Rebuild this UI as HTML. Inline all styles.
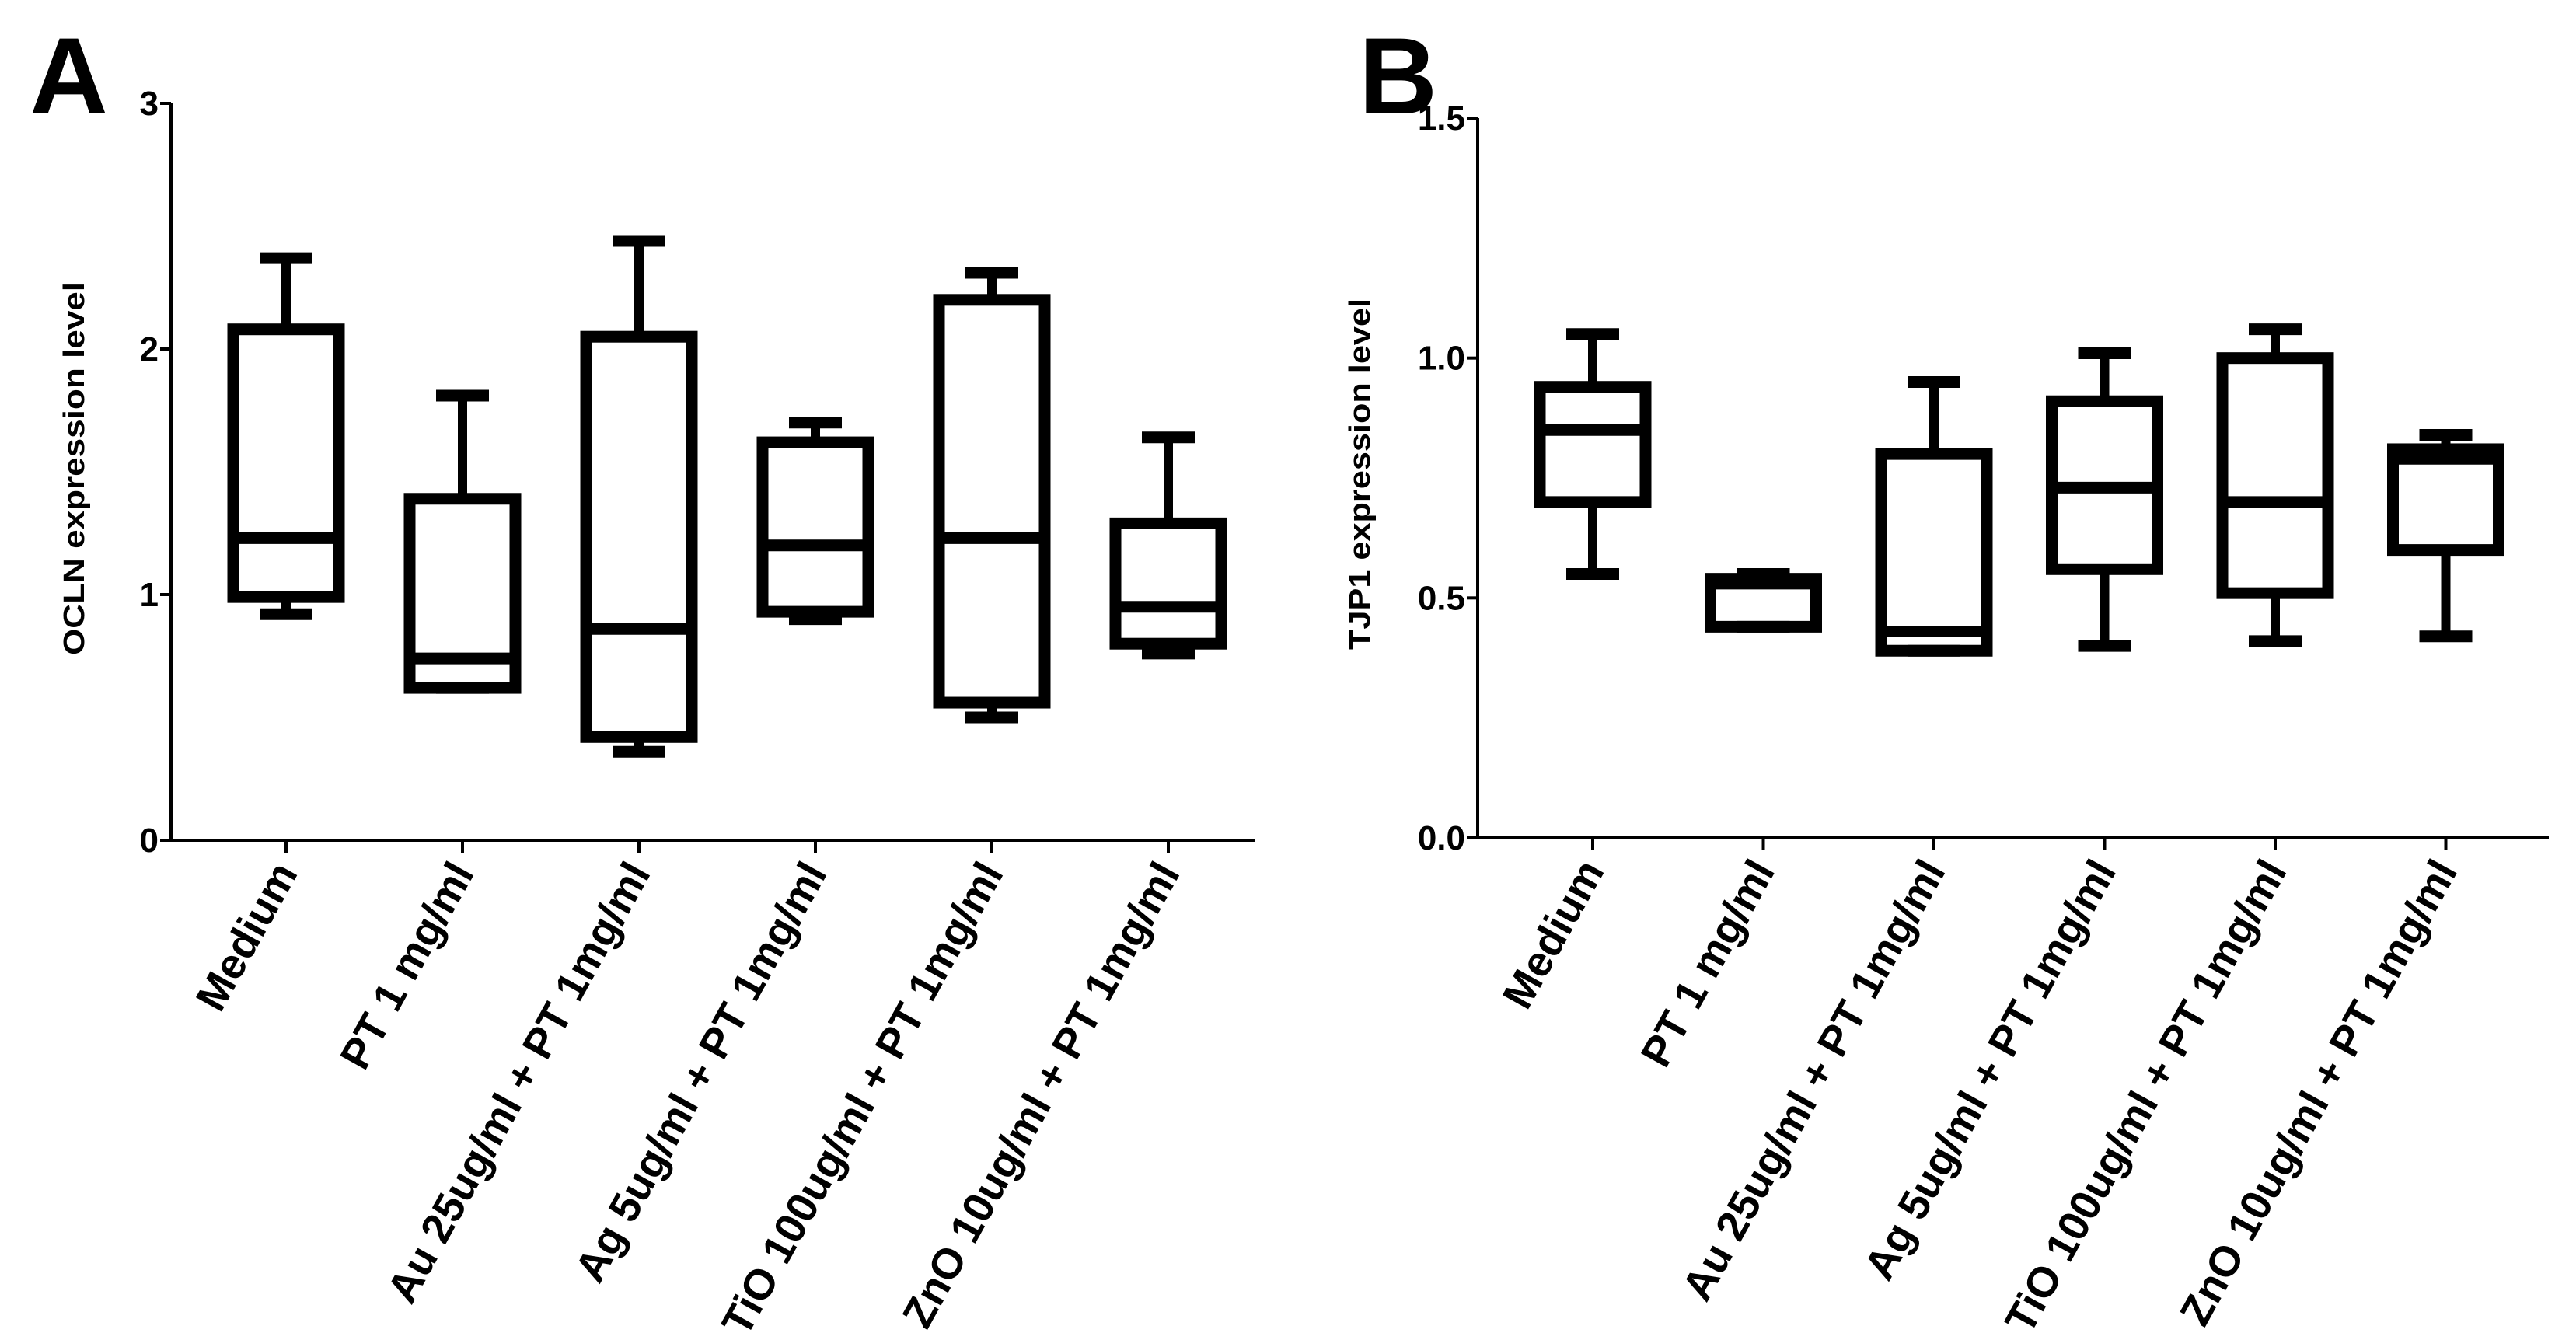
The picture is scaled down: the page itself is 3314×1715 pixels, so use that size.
<!DOCTYPE html>
<html><head><meta charset="utf-8"><style>
html,body{margin:0;padding:0;background:#fff}
svg{display:block}
text{font-family:"Liberation Sans",Arial,sans-serif;fill:#000}
</style></head><body>
<svg id="fig" width="3314" height="1715" viewBox="0 0 3314 1715" xmlns="http://www.w3.org/2000/svg"></svg>
<script>
const categories = ["Medium","PT 1 mg/ml","Au 25ug/ml + PT 1mg/ml","Ag 5ug/ml + PT 1mg/ml","TiO 100ug/ml + PT 1mg/ml","ZnO 10ug/ml + PT 1mg/ml"];
// Panel A (OCLN)
const aMin = [0.92,0.62,0.36,0.90,0.50,0.76];
const aQ1  = [0.99,0.62,0.42,0.93,0.56,0.80];
const aMed = [1.23,0.74,0.86,1.20,1.23,0.95];
const aQ3  = [2.08,1.39,2.05,1.62,2.20,1.29];
const aMax = [2.37,1.81,2.44,1.70,2.31,1.64];
const aTicks = [0,1,2,3];
const aTickLabels = ["0","1","2","3"];
// Panel B (TJP1)
const bMin = [0.55,0.44,0.39,0.40,0.41,0.42];
const bQ1  = [0.70,0.44,0.39,0.56,0.51,0.60];
const bMed = [0.85,0.53,0.43,0.73,0.70,0.79];
const bQ3  = [0.94,0.54,0.80,0.91,1.00,0.81];
const bMax = [1.05,0.55,0.95,1.01,1.06,0.84];
const bTicks = [0,0.5,1.0,1.5];
const bTickLabels = ["0.0","0.5","1.0","1.5"];

const NS="http://www.w3.org/2000/svg";
const svg=document.getElementById('fig');
function mk(tag,attrs,parent){const e=document.createElementNS(NS,tag);for(const k in attrs)e.setAttribute(k,attrs[k]);(parent||svg).appendChild(e);return e;}

function panel(cfg){
  const g=mk('g',{});
  
  
  const y=v=>cfg.y0-(v-cfg.vmin)/(cfg.vmax-cfg.vmin)*(cfg.y0-cfg.yTop);
  const x=i=>cfg.x0+i*cfg.step;
  const ya=mk('line',{x1:cfg.ax,y1:y(cfg.vmax),x2:cfg.ax,y2:cfg.y0,stroke:'#000','stroke-width':4},g);
  
  
  const xa=mk('line',{x1:cfg.ax-2,y1:cfg.y0,x2:cfg.axEnd,y2:cfg.y0,stroke:'#000','stroke-width':4},g);
  
  
  cfg.ticks.forEach((t,i)=>{
    mk('line',{x1:cfg.ax-14,y1:y(t),x2:cfg.ax,y2:y(t),stroke:'#000','stroke-width':4},g);
    const tl=mk('text',{x:cfg.ax-16,y:y(t)+15,'font-size':44,'text-anchor':'end','font-weight':'bold'},g);
    tl.textContent=cfg.tickLabels[i];
    
    
  });
  const tt=mk('text',{x:0,y:0,'font-size':38,'font-weight':'bold','text-anchor':'middle',textLength:cfg.titleLen,lengthAdjust:'spacingAndGlyphs',transform:`translate(${cfg.titleX},${cfg.titleY}) rotate(-90)`},g);
  tt.textContent=cfg.title;
  
  
  const pl=mk('text',{x:cfg.letterX,y:cfg.letterY,'font-size':140,'font-weight':'bold'},g);
  pl.textContent=cfg.letter;
  
  
  categories.forEach((c,i)=>{
    const cx=x(i);
    mk('line',{x1:cx,y1:cfg.y0,x2:cx,y2:cfg.y0+16,stroke:'#000','stroke-width':4},g);
    const lb=mk('text',{x:0,y:0,'font-size':55,'font-weight':'bold','text-anchor':'end',transform:`translate(${cx+16},${cfg.y0+42}) rotate(-61)`},g);
    lb.textContent=c;
    
    
    const bg=mk('g',{fill:'none',stroke:'#000','stroke-width':15},g);
    
    
    const hw=68,cw=34;
    mk('line',{x1:cx,y1:y(cfg.max[i]),x2:cx,y2:y(cfg.q3[i]),'stroke-width':12},bg);
    mk('line',{x1:cx-cw,y1:y(cfg.max[i]),x2:cx+cw,y2:y(cfg.max[i])},bg);
    mk('line',{x1:cx,y1:y(cfg.q1[i]),x2:cx,y2:y(cfg.min[i]),'stroke-width':12},bg);
    mk('line',{x1:cx-cw,y1:y(cfg.min[i]),x2:cx+cw,y2:y(cfg.min[i])},bg);
    mk('rect',{x:cx-hw,y:y(cfg.q3[i]),width:2*hw,height:Math.max(0,y(cfg.q1[i])-y(cfg.q3[i]))},bg);
    mk('line',{x1:cx-hw,y1:y(cfg.med[i]),x2:cx+hw,y2:y(cfg.med[i])},bg);
  });
}
panel({name:'panel-a-ocln',ax:220,axEnd:1615,y0:1081,yTop:133,vmin:0,vmax:3,x0:368,step:227,
  ticks:aTicks,tickLabels:aTickLabels,title:'OCLN expression level',titleX:108,titleY:603,titleLen:480,
  letter:'A',letterX:38,letterY:146,min:aMin,q1:aQ1,med:aMed,q3:aQ3,max:aMax});
panel({name:'panel-b-tjp1',ax:1901,axEnd:3279,y0:1078,yTop:152,vmin:0,vmax:1.5,x0:2049,step:219.5,
  ticks:bTicks,tickLabels:bTickLabels,title:'TJP1 expression level',titleX:1762,titleY:610,titleLen:452,
  letter:'B',letterX:1748,letterY:146,min:bMin,q1:bQ1,med:bMed,q3:bQ3,max:bMax});
</script>
</body></html>
